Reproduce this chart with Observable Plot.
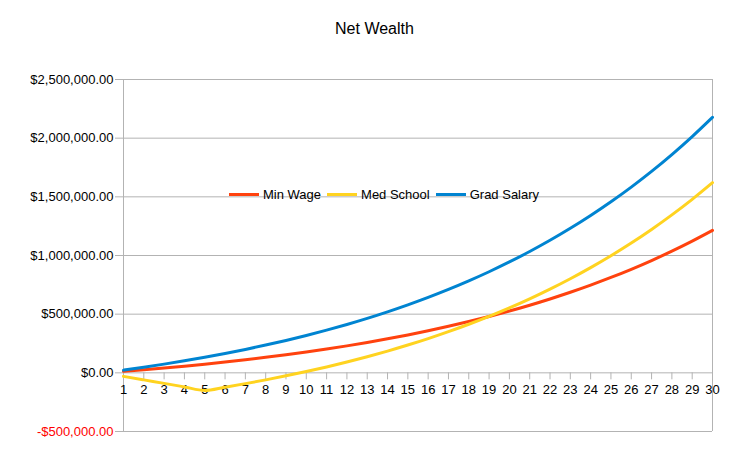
<!DOCTYPE html>
<html>
<head>
<meta charset="utf-8">
<script src="https://cdn.jsdelivr.net/npm/d3@7"></script>
<script src="https://cdn.jsdelivr.net/npm/@observablehq/plot@0.6"></script>
<style>
  html, body { margin: 0; padding: 0; background: #fff; }
  #wrap { position: relative; width: 749px; height: 464px; font-family: "Liberation Sans", Arial, sans-serif; }
  #title { position: absolute; left: 0; width: 749px; top: 19px; text-align: center; font-size: 16px; color: #000; line-height: 20px; }
  #legend { position: absolute; left: 229px; top: 186px; display: flex; align-items: center; height: 16px; font-size: 13px; color: #000; }
  .sw { width: 30px; height: 3px; margin-right: 4px; }
  .lab { margin-right: 6px; white-space: nowrap; }
</style>
</head>
<body>
<div id="wrap">
  <div id="chart"></div>
  <div id="title">Net Wealth</div>
  <div id="legend"></div>
</div>
<script>
const years = Array.from({length: 30}, (_, i) => i + 1);
const seriesNames = ["Min Wage", "Med School", "Grad Salary"];
const seriesColors = ["#ff420e", "#ffd320", "#0084d1"];
const minWage = [12850, 26600, 41310, 57050, 73900, 91920, 111200, 131840, 153920, 177540,
  202820, 229870, 258810, 289770, 322910, 358360, 396300, 436890, 480320, 526790,
  576520, 629720, 686650, 747570, 812750, 882490, 957120, 1036970, 1122400, 1213820];
const medSchool = [-30000, -60000, -90000, -120000, -150000, -122000, -92040, -59990, -25680, 11020,
  50290, 92310, 137270, 185380, 236860, 291940, 350880, 413930, 481410, 553620,
  630870, 713530, 801960, 896610, 997880, 1106220, 1222140, 1346190, 1478940, 1620980];
const gradSalary = [23050, 47710, 74100, 102340, 132550, 164880, 199470, 236490, 276090, 318470,
  363810, 412330, 464240, 519790, 579220, 642820, 710870, 783680, 861590, 944950,
  1034140, 1129580, 1231700, 1340970, 1457890, 1582990, 1716850, 1860080, 2013340, 2177320];
const yTicks = [-500000, 0, 500000, 1000000, 1500000, 2000000, 2500000];

const allSeries = [minWage, medSchool, gradSalary];
const rows = seriesNames.map((name, s) => years.map((yr, i) => ({series: name, year: yr, value: allSeries[s][i]})));

const W = 749, H = 464, mt = 79, mb = 33, ml = 123, mr = 37;
const frameH = H - mt - mb;
const yDomain = [yTicks[0], yTicks[yTicks.length - 1]];
const zeroTop = frameH * (yDomain[1] - 0) / (yDomain[1] - yDomain[0]);
const tickLen = 7;

const fmt = d => (d < 0 ? "-" : "") + "$" + d3.format(",.2f")(Math.abs(d));
const grid = "#b3b3b3";

const chart = Plot.plot({
  width: W, height: H,
  marginTop: mt, marginBottom: mb, marginLeft: ml, marginRight: mr,
  style: {fontFamily: "Liberation Sans, Arial, sans-serif", fontSize: "13px", background: "#fff"},
  x: {domain: [years[0], years[years.length - 1]], axis: null},
  y: {domain: yDomain, axis: null},
  marks: [
    Plot.gridY(yTicks, {stroke: grid, strokeOpacity: 1}),
    Plot.ruleX([years[0], years[years.length - 1]], {stroke: grid}),
    Plot.ruleX(years, {stroke: grid, insetTop: zeroTop, insetBottom: frameH - zeroTop - tickLen}),
    Plot.axisY(yTicks.filter(d => d >= 0), {label: null, tickSize: 8, tickPadding: 2, tickFormat: fmt, stroke: grid, fill: "#000", fontSize: 13}),
    Plot.axisY(yTicks.filter(d => d < 0), {label: null, tickSize: 8, tickPadding: 2, tickFormat: fmt, stroke: grid, fill: "#ff0000", fontSize: 13}),
    Plot.text(years, {x: d => d, y: 0, dy: 17, text: d => String(d), fill: "#000", fontSize: 13}),
    ...rows.map((r, s) => Plot.line(r, {x: "year", y: "value", stroke: seriesColors[s], strokeWidth: 3, curve: "monotone-x"}))
  ]
});
document.getElementById("chart").appendChild(chart);

const legend = document.getElementById("legend");
seriesNames.forEach((name, s) => {
  const sw = document.createElement("div");
  sw.className = "sw";
  sw.style.background = seriesColors[s];
  const lab = document.createElement("div");
  lab.className = "lab";
  lab.textContent = name;
  legend.appendChild(sw);
  legend.appendChild(lab);
});
</script>
</body>
</html>
